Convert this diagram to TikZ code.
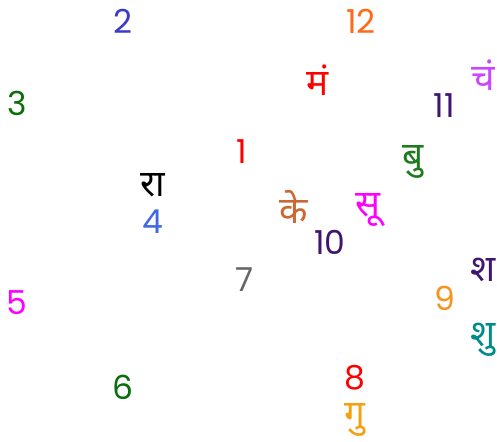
\documentclass[tikz,border=0pt]{standalone}
\usepackage{fontspec}
\setmainfont{Poppins}
\newfontfamily\devfont[Script=Devanagari]{Noto Sans}
\usepackage{xcolor}
\definecolor{c1}{HTML}{FF0000}
\definecolor{c2}{HTML}{3B3BC8}
\definecolor{c12}{HTML}{FF6A1A}
\definecolor{c3}{HTML}{0A6E0A}
\definecolor{c11}{HTML}{3F1570}
\definecolor{c4}{HTML}{4169E1}
\definecolor{c5}{HTML}{FF00FF}
\definecolor{c7}{HTML}{666666}
\definecolor{c9}{HTML}{F7931E}
\definecolor{cbu}{HTML}{1E7A1E}
\definecolor{cke}{HTML}{CC6633}
\definecolor{cch}{HTML}{CC44FF}
\definecolor{csh}{HTML}{008B8B}
\definecolor{cgu}{HTML}{F5A011}
\tikzset{
  hnum/.style={inner sep=0pt, font=\fontsize{33}{37}\selectfont},
  graha/.style={inner sep=0pt, font=\devfont\fontsize{37}{40}\selectfont},
}

\begin{document}
\begin{tikzpicture}[x=1pt, y=-1pt]
    \useasboundingbox (0,0) rectangle (497,441);
    % house numbers
    \foreach \n/\x/\y/\c in {1/242/152/c1, 2/123/21/c2, 3/17/103/c3, 4/153/222/c4,
        5/17/303/c5, 6/123/387/c3, 7/245/280/c7, 8/355/378/c1,
        9/445/298/c9, 10/330/242/c11, 11/444/106/c11, 12/361/21/c12}
        \node[hnum, text=\c] (h\n) at (\x,\y) {\n};
    % planets
    \node[graha, text=c1]    (ma) at (318,80)  {मं};
    \node[graha, text=cch]   (ch) at (483,75)  {चं};
    \node[graha, text=cbu]   (bu) at (413,162) {बु};
    \node[graha, text=black] (ra) at (153,185) {रा};
    \node[graha, text=cke]   (ke) at (294,207) {के};
    \node[graha, text=c5]    (su) at (368,210) {सू};
    \node[graha, text=c11]   (sa) at (483,270) {श};
    \node[graha, text=csh]   (sk) at (483,340) {शु};
    \node[graha, text=cgu]   (gu) at (355,420) {गु};
\end{tikzpicture}
\end{document}
